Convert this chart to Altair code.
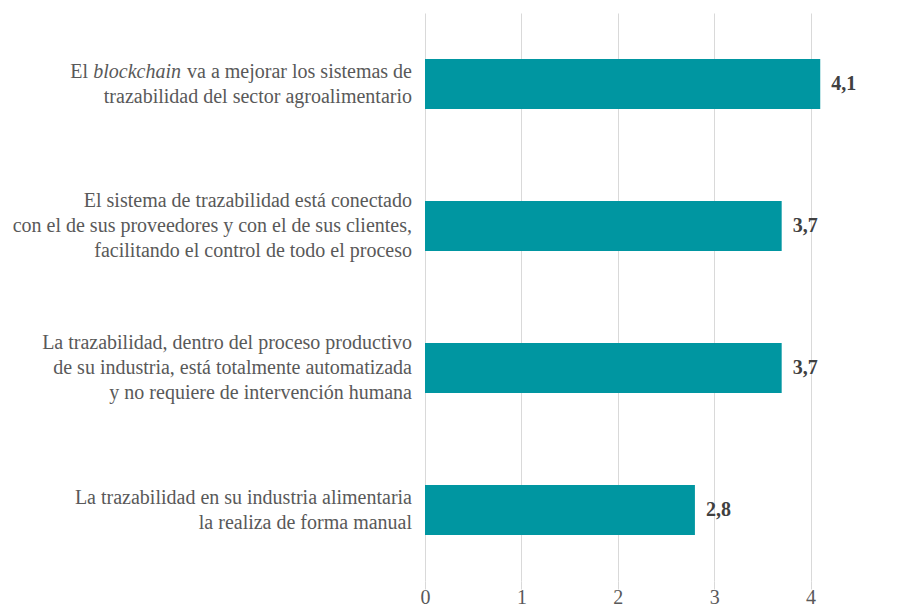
import altair as alt
import pandas as pd

# ---- data ----
keys = ["q1", "q2", "q3", "q4"]
values = [4.1, 3.7, 3.7, 2.8]
value_text = ["4,1", "3,7", "3,7", "2,8"]
label_lines = [
    ["El blockchain va a mejorar los sistemas de",
     "trazabilidad del sector agroalimentario"],
    ["El sistema de trazabilidad está conectado",
     "con el de sus proveedores y con el de sus clientes,",
     "facilitando el control de todo el proceso"],
    ["La trazabilidad, dentro del proceso productivo",
     "de su industria, está totalmente automatizada",
     "y no requiere de intervención humana"],
    ["La trazabilidad en su industria alimentaria",
     "la realiza de forma manual"],
]
# first line of the first label (mixed roman / italic)
first_line_segments = ["El", "blockchain", "va a mejorar los sistemas de"]
segment_italic = [False, True, False]
segment_right_px = [-337, -244, -13]
tick_values = [0, 1, 2, 3, 4, 5]

# ---- style ----
TEAL = "#0096A1"
FONT = "'Liberation Serif', 'DejaVu Serif', serif"
FS = 20
LH = 25
TXT = "#595959"
GRID = "#d9d9d9"
PLOT_W = 474      # visible plot width (svg ends at the window edge)
UNIT_RANGE = 482  # pixel length of the 0..5 axis

df = pd.DataFrame({"key": keys, "value": values, "vtext": value_text})

y_enc = alt.Y("key:N", sort=keys, axis=None,
              scale=alt.Scale(paddingInner=0.648, paddingOuter=0.324))
x_scale = alt.Scale(domain=[0, 5], nice=False, range=[0, UNIT_RANGE])
x_enc = alt.X("value:Q", scale=x_scale,
              axis=alt.Axis(values=tick_values, format="d", grid=True, domain=False,
                            ticks=True, tickColor=GRID, tickSize=8, tickWidth=1,
                            labelFontSize=FS, labelFont=FONT,
                            labelColor=TXT, labelPadding=-2, gridColor=GRID,
                            gridWidth=1, title=None, labelFlush=False))

base = alt.Chart(df)
bars = base.mark_bar(color=TEAL).encode(x=x_enc, y=y_enc)
vlabels = base.mark_text(align="left", baseline="middle", dx=11, font=FONT,
                         fontSize=FS, fontWeight="bold", color="#404040").encode(
    x=alt.X("value:Q", scale=x_scale), y=y_enc, text="vtext:N")

layers = [bars, vlabels]

# category labels (lines except the mixed-style first line of q1)
rows = []
for k, lines in zip(keys, label_lines):
    n = len(lines)
    for i, t in enumerate(lines):
        if k == keys[0] and i == 0:
            continue
        rows.append({"key": k, "line": t, "off": (i - (n - 1) / 2) * LH})
ldf = pd.DataFrame(rows)
for off in sorted(ldf["off"].unique()):
    sub = ldf[ldf["off"] == off]
    layers.append(
        alt.Chart(sub).mark_text(align="right", baseline="middle", dy=float(off),
                                 font=FONT, fontSize=FS, color=TXT).encode(
            x=alt.value(-13), y=y_enc, text="line:N"))

n0 = len(label_lines[0])
for seg, ital, px in zip(first_line_segments, segment_italic, segment_right_px):
    sd = pd.DataFrame({"key": [keys[0]], "seg": [seg]})
    layers.append(alt.Chart(sd).mark_text(
        align="right", baseline="middle", dy=-(n0 - 1) / 2 * LH, font=FONT,
        fontSize=FS, color=TXT, fontStyle="italic" if ital else "normal").encode(
        x=alt.value(px), y=y_enc, text="seg:N"))

chart = alt.layer(*layers).properties(
    width=PLOT_W, height=568,
    autosize=alt.AutoSizeParams(type="none"),
    padding={"left": 417, "top": 5, "right": 0, "bottom": 30},
).configure_view(stroke=None)

chart.save("out.html", embed_options={"renderer": "svg", "actions": False})
